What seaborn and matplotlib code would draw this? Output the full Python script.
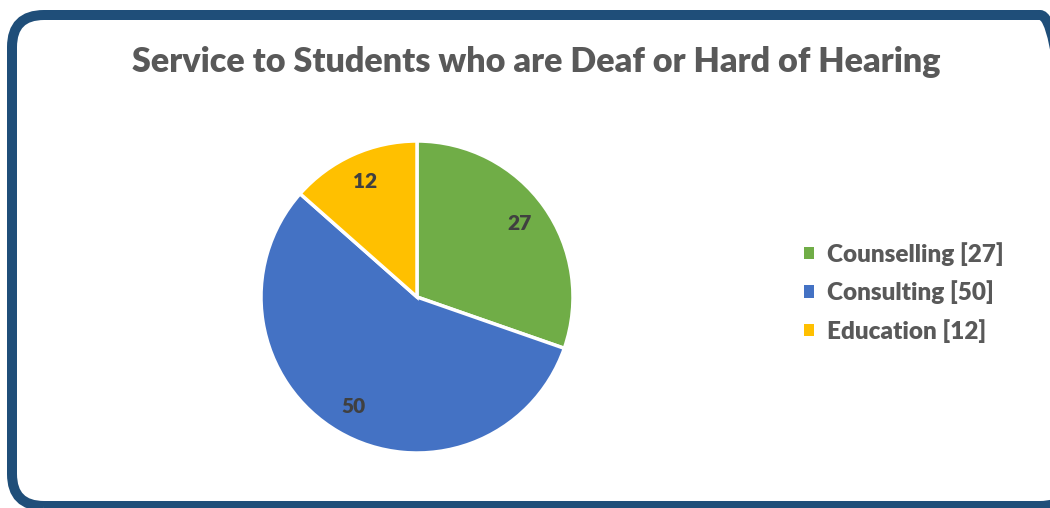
import matplotlib
matplotlib.use("Agg")
import matplotlib.pyplot as plt
import matplotlib.transforms as mtransforms
import seaborn as sns
from matplotlib.patches import FancyBboxPatch, Patch

sns.set_theme(style="white")
plt.rcParams['font.family'] = ['Lato', 'DejaVu Sans']

categories = ["Counselling", "Consulting", "Education"]
values = [27, 50, 12]
colors = ["#70AD47", "#4472C4", "#FFC000"]
title = "Service to Students who are Deaf or Hard of Hearing"

W, H = 1050, 508
fig = plt.figure(figsize=(W / 100, H / 100), dpi=100)
fig.patch.set_facecolor("white")

# rounded border (pixel coordinates, origin bottom-left)
border = FancyBboxPatch((12, 2), 1060, 491,
                        boxstyle="round,pad=0,rounding_size=32",
                        transform=mtransforms.IdentityTransform(),
                        facecolor="none", edgecolor="#1F4E79",
                        linewidth=7.2, zorder=-1)
fig.patches.append(border)

cx, cy, r = 417, 297, 156
ax = fig.add_axes([(cx - r) / W, (H - cy - r) / H, 2 * r / W, 2 * r / H])
wedges, texts, autotexts = ax.pie(
    values, colors=colors, startangle=90, counterclock=False,
    radius=1, autopct=lambda p: f"{round(p * sum(values) / 100):d}",
    pctdistance=0.81,
    wedgeprops=dict(edgecolor="white", linewidth=2.5),
    textprops=dict(color="#404040", fontsize=15, fontweight="heavy"))
ax.set_xlim(-1, 1)
ax.set_ylim(-1, 1)
ax.set_aspect("equal")
ax.axis("off")

fig.text(536 / W, 1 - 62 / H, title, ha="center", va="center",
         fontsize=24.6, fontweight="heavy", color="#595959")

handles = [Patch(facecolor=c, edgecolor="none") for c in colors]
labels = [f"{c} [{v}]" for c, v in zip(categories, values)]
leg = fig.legend(handles, labels, loc="upper left",
                 bbox_to_anchor=(782 / W, 1 - 220 / H), frameon=False,
                 handlelength=0.42, handleheight=0.42, handletextpad=0.55,
                 labelspacing=0.6, prop=dict(size=17.5, weight="heavy"))
for t in leg.get_texts():
    t.set_color("#595959")

fig.savefig("out.png", dpi=100, facecolor="white")
